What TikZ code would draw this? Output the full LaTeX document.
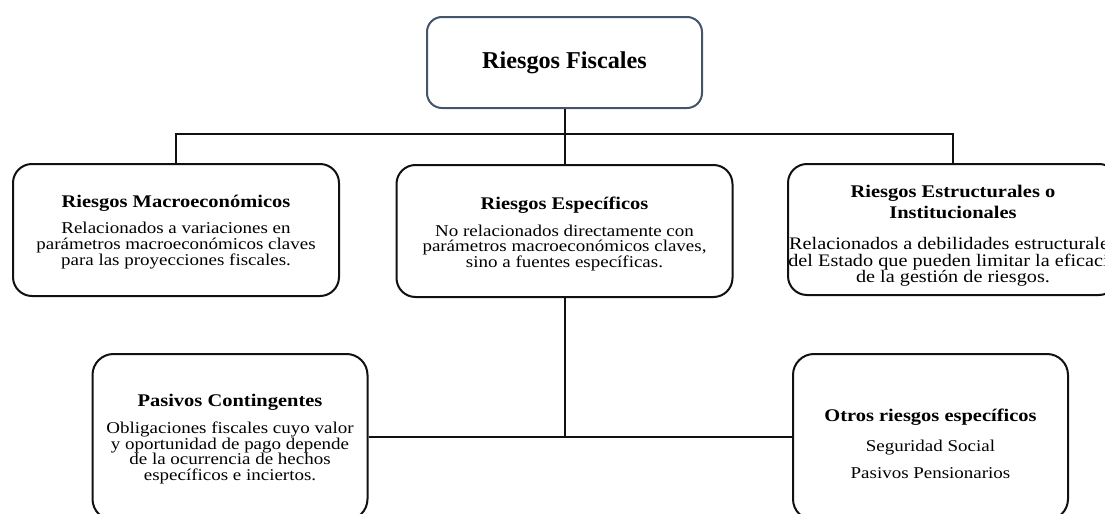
\documentclass[tikz,border=0pt]{standalone}
\usepackage{fontspec}
\setmainfont{Liberation Serif}
\newfontfamily\rfserif[FakeStretch=1.15]{Liberation Serif}
\usepackage{tikz}
\usetikzlibrary{positioning,calc}
\definecolor{rfslate}{HTML}{44546A}
\definecolor{rfink}{HTML}{111111}
\newcommand{\rfhead}[2][0pt]{{\fontsize{8.9}{8}\selectfont\bfseries\rule{0pt}{\dimexpr 6.2pt+#1\relax}#2}}
\newcommand{\rfbody}{\rfserif\fontsize{8.25}{7.8}\selectfont\lineskiplimit=-10pt\relax}
\newcommand{\rfbodybig}{\rfserif\fontsize{8.8}{8.1}\selectfont\lineskiplimit=-10pt\relax}
\tikzset{
  titleBox/.style={draw=rfslate, line width=1pt, rounded corners=7.5pt, fill=white, align=center, inner sep=0pt, minimum width=137.5pt, minimum height=45.5pt, font=\fontsize{12.1}{14}\selectfont\bfseries},
  riskBox/.style={draw=rfink, line width=1pt, rounded corners=9.5pt, fill=white, align=center, inner sep=0pt, minimum width=163pt, minimum height=66pt, font=\rfbody},
  subBox/.style={riskBox, rounded corners=10.5pt, minimum width=137.5pt, minimum height=83pt},
  linkLine/.style={draw=rfink, line width=1pt}
}

\begin{document}
\begin{tikzpicture}[x=0.5pt,y=-0.5pt]
  \useasboundingbox (0,0) rectangle (1105,514);
  \clip (0,0) rectangle (1105,514);
  \node[titleBox] (fiscal) at (564.5,62.5) {Riesgos Fiscales};
  \node[riskBox] (macro) at (176,230) {\rfhead[1.7pt]{Riesgos Macroeconómicos}\\[5.5pt] Relacionados a variaciones en\\ parámetros macroeconómicos claves\\ para las proyecciones fiscales.};
  \node[riskBox, minimum width=168pt] (espec) at (564.5,231) {\rfhead[3pt]{Riesgos Específicos}\\[5.5pt] No relacionados directamente con\\ parámetros macroeconómicos claves,\\ sino a fuentes específicas.};
  \node[riskBox, minimum width=165pt, minimum height=65.5pt, font=\rfbodybig] (estruct) at (953,229.5) {\rfhead[6pt]{Riesgos Estructurales o}\\[2.4pt] \rfhead{Institucionales}\\[7.7pt] Relacionados a debilidades estructurales\\ del Estado que pueden limitar la eficacia\\ de la gestión de riesgos.};
  \node[subBox] (pasivos) at (230,437) {\rfhead[2pt]{Pasivos Contingentes}\\[5.8pt] Obligaciones fiscales cuyo valor\\ y oportunidad de pago depende\\ de la ocurrencia de hechos\\ específicos e inciertos.};
  \node[subBox] (otros) at (930.5,437) {\rfhead[7pt]{Otros riesgos específicos}\\[7.2pt] Seguridad Social\\[6pt] Pasivos Pensionarios};
  \coordinate (bus) at (564.5,134);
  \draw[linkLine] (fiscal) -- (espec);
  \draw[linkLine] (macro) |- (bus) -| (estruct);
  \draw[linkLine] (espec) -- (espec |- pasivos);
  \draw[linkLine] (pasivos) -- (otros);
\end{tikzpicture}
\end{document}
